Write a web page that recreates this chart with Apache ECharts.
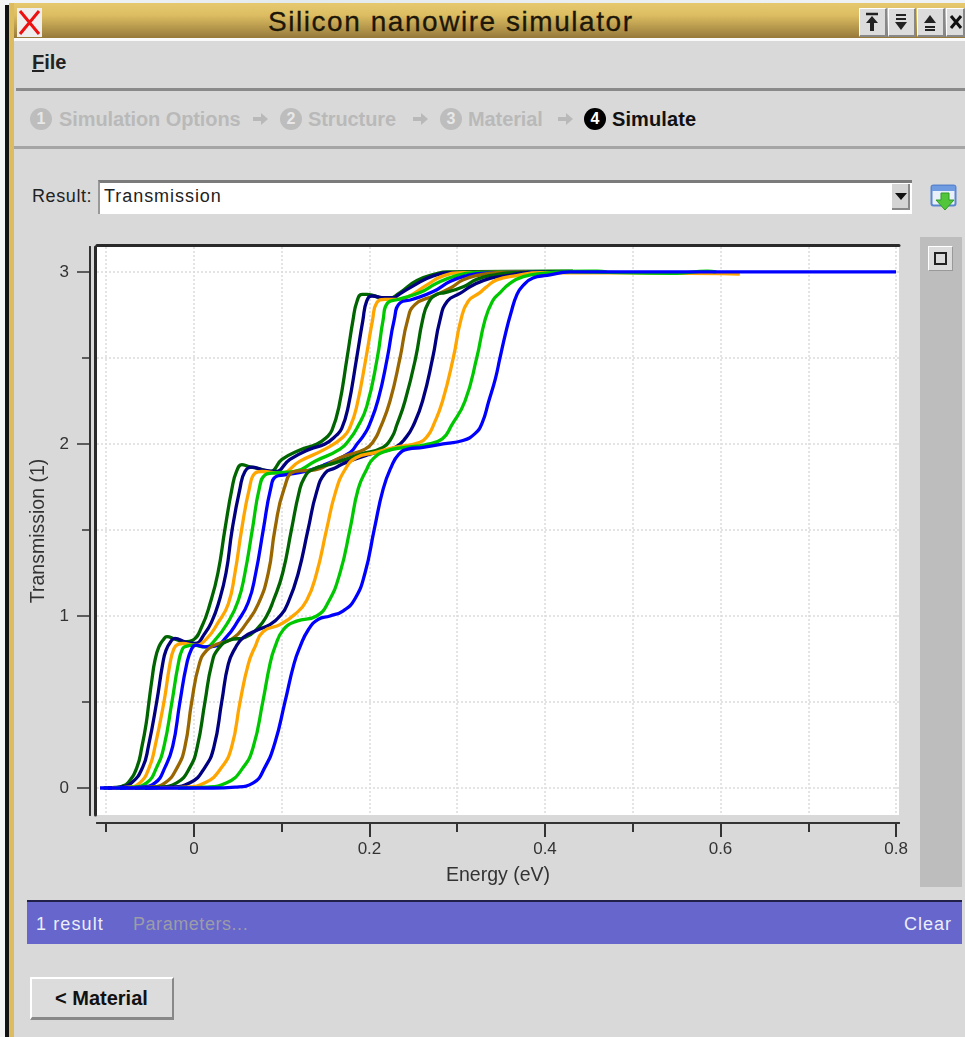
<!DOCTYPE html>
<html><head><meta charset="utf-8"><title>Silicon nanowire simulator</title>
<script src="https://cdn.jsdelivr.net/npm/echarts@6/dist/echarts.min.js"></script>
<style>
html,body{margin:0;padding:0;width:965px;height:1037px;overflow:hidden;background:#d9d9d9;font-family:"Liberation Sans",Arial,sans-serif;color:#222}
.a{position:absolute;white-space:nowrap;line-height:1}
#chart{position:absolute;left:0;top:0;width:965px;height:1037px;z-index:2}
.step{font-weight:bold;font-size:20px;color:#b9b9b9;letter-spacing:-.1px}
.num{width:22px;height:22px;border-radius:50%;background:#bdbdbd;color:#e8e8e8;text-align:center;font-size:16px;line-height:22px;font-weight:bold}
.btn{background:#dcdcdc;border-top:1px solid #fff;border-left:1px solid #fff;border-right:2px solid #888;border-bottom:2px solid #888;box-sizing:border-box}
</style></head><body>
<div class="a" style="left:0;top:0;width:965px;height:9px;background:linear-gradient(90deg,#f3f6f8,#e3eaee 30%,#f0f3f5)"></div>
<div class="a" style="left:0;top:0;width:5px;height:1037px;background:#f4f4f4"></div>
<div class="a" style="left:5px;top:5px;width:4px;height:1032px;background:#111"></div>
<div class="a" style="left:9px;top:3px;width:5px;height:1034px;background:#dcbc5e"></div>
<div class="a" style="left:14px;top:3px;width:951px;height:35px;background:linear-gradient(180deg,#e6c96f,#dcbd62 35%,#96793a)"></div>
<div class="a" style="left:14px;top:38px;width:951px;height:3px;background:#fafafa"></div>
<div class="a" style="left:17px;top:8px;width:25px;height:29px;background:#eee"></div>
<svg class="a" style="left:17px;top:8px" width="25" height="29"><path d="M3 3L22 26M22 3L3 26" stroke="#ee1111" stroke-width="3"/></svg>
<div class="a" id="title" style="left:268px;top:8px;font-size:28px;letter-spacing:1.55px;color:#1c1608;-webkit-text-stroke:.3px #1c1608">Silicon nanowire simulator</div>
<div class="a btn" style="left:859px;top:8px;width:28px;height:29px"><svg width="24" height="26"><path d="M6 5H18" stroke="#222" stroke-width="2.5"/><path d="M6 14L12 7L18 14H14V22H10V14Z" fill="#222"/></svg></div>
<div class="a btn" style="left:888px;top:8px;width:28px;height:29px"><svg width="24" height="26"><path d="M7 6H17M7 10H17" stroke="#222" stroke-width="2"/><path d="M6 13H18L12 21Z" fill="#222"/></svg></div>
<div class="a btn" style="left:917px;top:8px;width:28px;height:29px"><svg width="24" height="26"><path d="M6 14H18L12 6Z" fill="#222"/><path d="M7 18H17M7 21H17" stroke="#222" stroke-width="2"/></svg></div>
<div class="a btn" style="left:946px;top:8px;width:19px;height:29px"><svg width="18" height="26"><path d="M4 7L14 19M14 7L4 19" stroke="#111" stroke-width="3"/></svg></div>

<div class="a" style="left:32px;top:52px;font-size:20px;font-weight:bold;color:#222"><u>F</u>ile</div>
<div class="a" style="left:16px;top:88px;width:949px;height:3px;background:#8a8a8a"></div>
<div class="a" style="left:14px;top:146px;width:951px;height:3px;background:#a5a5a5"></div>

<div class="a num" style="left:30px;top:108px">1</div>
<div class="a step" style="left:59px;top:109px">Simulation Options</div>
<svg class="a" style="left:252px;top:111px" width="18" height="16"><path d="M1 6H9V2L16 8L9 14V10H1Z" fill="#b9b9b9"/></svg>
<div class="a num" style="left:280px;top:108px">2</div>
<div class="a step" style="left:308px;top:109px">Structure</div>
<svg class="a" style="left:412px;top:111px" width="18" height="16"><path d="M1 6H9V2L16 8L9 14V10H1Z" fill="#b9b9b9"/></svg>
<div class="a num" style="left:440px;top:108px">3</div>
<div class="a step" style="left:468px;top:109px">Material</div>
<svg class="a" style="left:557px;top:111px" width="18" height="16"><path d="M1 6H9V2L16 8L9 14V10H1Z" fill="#b9b9b9"/></svg>
<div class="a num" style="left:584px;top:108px;background:#000;color:#fff">4</div>
<div class="a step" style="left:612px;top:109px;color:#111;letter-spacing:.1px">Simulate</div>

<div class="a" style="left:32px;top:187px;font-size:18px;letter-spacing:.6px;color:#222">Result:</div>
<div class="a" style="left:98px;top:180px;width:814px;height:34px;background:#fff;border-top:3px solid #7b7b7b;border-left:2px solid #999;box-sizing:border-box"></div>
<div class="a" style="left:104px;top:187px;font-size:18px;letter-spacing:.95px;color:#222">Transmission</div>
<div class="a" style="left:892px;top:184px;width:18px;height:26px;background:#d4d4d4;border-right:2px solid #888;border-bottom:2px solid #888;box-sizing:border-box"></div>
<svg class="a" style="left:894px;top:192px" width="14" height="10"><path d="M1 1H13L7 8Z" fill="#111"/></svg>
<svg class="a" style="left:930px;top:184px" width="30" height="30"><rect x="1.5" y="1.5" width="24" height="20" rx="2" fill="#e9f0fa" stroke="#5a86cf" stroke-width="2"/><rect x="2" y="2" width="23" height="5" fill="#6f9be0"/><path d="M11 9H19V16H24L15 26L6 16H11Z" fill="#52c63a" stroke="#2f9a25"/></svg>

<div class="a" style="left:920px;top:237px;width:42px;height:650px;background:#bdbdbd"></div>
<div class="a" style="left:928px;top:246px;width:25px;height:25px;background:#dcdcdc;border-top:1px solid #fff;border-left:1px solid #fff;border-right:1px solid #999;border-bottom:1px solid #999;box-sizing:border-box"></div>
<div class="a" style="left:934px;top:252px;width:13px;height:13px;border:2px solid #222;box-sizing:border-box"></div>

<div class="a" style="left:27px;top:900px;width:935px;height:44px;background:#6666cc;border-top:2px solid #20204a;box-sizing:border-box"></div>
<div class="a" style="left:36px;top:915px;font-size:18px;letter-spacing:1.1px;color:#eceef8">1 result</div>
<div class="a" style="left:133px;top:915px;font-size:18px;letter-spacing:.55px;color:#9c9ca8">Parameters...</div>
<div class="a" style="left:904px;top:915px;font-size:18px;letter-spacing:1px;color:#eceef8">Clear</div>

<div class="a" style="left:30px;top:977px;width:144px;height:43px;background:#dcdcdc;border-top:2px solid #fff;border-left:2px solid #fff;border-right:2px solid #888;border-bottom:3px solid #888;box-sizing:border-box"></div>
<div class="a" style="left:55px;top:988px;font-size:20px;font-weight:bold;color:#111">&lt; Material</div>

<div id="chart"></div>
<script>
// Readings from the picture: [energy (eV), transmission]
const darkGreenA=[[-.103,0],[-.09,.003],[-.082,.01],[-.0752,.03],[-.065,.12],[-.0593,.24],[-.0546,.37],[-.0513,.5],[-.0479,.63],[-.0445,.74],[-.04,.82],[-.0345,.865],[-.0308,.88],[-.0217,.865],[-.0103,.85],[-.0011,.86],[.0091,.94],[.0182,1.07],[.0273,1.25],[.0353,1.505],[.0433,1.74],[.0485,1.84],[.0547,1.88],[.0615,1.87],[.0752,1.855],[.0866,1.84],[.1003,1.91],[.1208,1.965],[.1402,2],[.1515,2.04],[.1573,2.08],[.1652,2.217],[.1744,2.5],[.1812,2.72],[.1858,2.83],[.1915,2.87],[.1972,2.87],[.212,2.85],[.2199,2.84],[.2348,2.88],[.2541,2.95],[.2769,2.99],[.2883,3],[.4228,3.004],[.4319,3.004]];
const navyA=[[-.098,0],[-.0843,.005],[-.071,.03],[-.0585,.12],[-.052,.24],[-.0425,.5],[-.0357,.72],[-.0319,.8],[-.026,.855],[-.0217,.87],[-.0103,.85],[.0011,.84],[.0125,.9],[.0205,.97],[.0277,1.07],[.0365,1.25],[.0436,1.505],[.0524,1.74],[.0581,1.84],[.0661,1.865],[.0775,1.85],[.0923,1.84],[.1094,1.91],[.1322,1.97],[.1493,2],[.1622,2.05],[.1684,2.09],[.1758,2.217],[.1854,2.5],[.1925,2.72],[.1968,2.83],[.2028,2.86],[.2177,2.85],[.2291,2.85],[.231,2.86],[.2499,2.919],[.2727,2.977],[.2955,2.996],[.417,3],[.44,3]];
const orangeA=[[-.0934,0],[-.0752,.005],[-.0615,.03],[-.0509,.12],[-.0444,.24],[-.0342,.5],[-.0274,.72],[-.0228,.81],[-.0182,.835],[-.0125,.84],[.0011,.83],[.0148,.87],[.0273,.96],[.0391,1.07],[.0467,1.25],[.0544,1.505],[.0631,1.74],[.0695,1.83],[.0775,1.84],[.098,1.83],[.1208,1.9],[.1493,1.97],[.1701,2.04],[.178,2.1],[.1854,2.217],[.196,2.5],[.2035,2.72],[.2082,2.82],[.2177,2.84],[.2291,2.84],[.2425,2.853],[.2655,2.925],[.2841,2.977],[.3069,2.996],[.43,3],[.44,3]];
const limeA=[[-.0889,0],[-.0706,.005],[-.0539,.03],[-.0425,.12],[-.0342,.24],[-.0251,.5],[-.0179,.72],[-.0129,.81],[-.008,.825],[-.0011,.83],[.0125,.82],[.0239,.86],[.0395,.97],[.0505,1.09],[.0581,1.25],[.0666,1.505],[.0744,1.74],[.0809,1.82],[.0889,1.83],[.1151,1.84],[.1379,1.9],[.1664,1.97],[.1778,2.03],[.1855,2.09],[.1968,2.217],[.2089,2.5],[.2155,2.72],[.2207,2.82],[.2325,2.84],[.2575,2.88],[.2766,2.934],[.2955,2.973],[.3183,2.996],[.45,3.005],[.46,3.005],[.47,3]];
const blueA=[[-.0843,0],[-.0615,.005],[-.0444,.03],[-.033,.12],[-.0243,.24],[-.016,.5],[-.0083,.72],[-.0026,.81],[.0023,.83],[.0125,.82],[.0239,.825],[.0373,.88],[.0487,.96],[.0619,1.08],[.0704,1.25],[.0791,1.505],[.0874,1.74],[.0934,1.81],[.1037,1.82],[.1265,1.84],[.1493,1.88],[.1778,1.95],[.1858,2],[.1934,2.05],[.1998,2.11],[.21,2.26],[.2203,2.5],[.2281,2.72],[.2348,2.82],[.2484,2.84],[.2727,2.886],[.2917,2.944],[.3108,2.978],[.3297,2.993],[.4,3]];
const brownA=[[-.0752,0],[-.0501,.005],[-.033,.03],[-.019,.12],[-.0103,.24],[-.0026,.5],[.006,.72],[.0145,.8],[.0259,.835],[.0444,.87],[.06,.96],[.0733,1.07],[.0847,1.25],[.0923,1.505],[.1027,1.74],[.1151,1.84],[.1379,1.85],[.1664,1.92],[.1949,1.97],[.2051,2.02],[.212,2.09],[.2234,2.25],[.2348,2.5],[.2434,2.72],[.2518,2.81],[.2727,2.86],[.2917,2.905],[.3069,2.954],[.3259,2.983],[.345,2.996],[.38,3]];
const darkGreenB=[[-.0672,0],[-.041,.005],[-.0197,.03],[-.0046,.12],[.0038,.24],[.0125,.5],[.0202,.72],[.0277,.81],[.041,.86],[.0581,.875],[.0729,.93],[.0828,1],[.0905,1.09],[.1011,1.25],[.1112,1.505],[.1198,1.72],[.1254,1.8],[.1345,1.85],[.1607,1.89],[.1892,1.94],[.2154,1.98],[.2256,2.04],[.2311,2.11],[.2405,2.25],[.2526,2.5],[.2605,2.72],[.267,2.82],[.2769,2.87],[.286,2.88],[.3069,2.914],[.3222,2.957],[.3411,2.982],[.3639,2.996],[.42,3]];
const navyB=[[-.0558,0],[-.0274,.005],[-.0046,.03],[.0125,.12],[.0228,.24],[.0316,.5],[.0391,.72],[.0467,.81],[.0562,.875],[.0729,.92],[.0866,.95],[.098,1],[.1075,1.08],[.1189,1.25],[.1301,1.505],[.1397,1.72],[.1493,1.83],[.1607,1.86],[.1721,1.89],[.2006,1.94],[.2291,1.98],[.2419,2.04],[.2502,2.11],[.2605,2.25],[.272,2.5],[.2803,2.72],[.2887,2.83],[.3031,2.875],[.3183,2.924],[.3373,2.963],[.3563,2.978],[.3791,2.996],[.43,3]];
const orangeB=[[-.0387,0],[-.0103,.005],[.0125,.03],[.0316,.12],[.043,.24],[.0525,.5],[.0619,.72],[.0695,.82],[.079,.91],[.098,.95],[.1151,1.01],[.1284,1.09],[.1398,1.25],[.1512,1.505],[.1613,1.72],[.172,1.85],[.1846,1.92],[.2063,1.95],[.2291,1.98],[.2575,2.01],[.2667,2.05],[.2729,2.11],[.2833,2.25],[.2955,2.5],[.3041,2.72],[.3125,2.83],[.3259,2.88],[.3327,2.91],[.345,2.954],[.3677,2.979],[.3943,2.996],[.6,2.99],[.622,2.988]];
const limeB=[[-.0182,0],[.0125,.005],[.0373,.03],[.0562,.12],[.0676,.24],[.0784,.5],[.0866,.72],[.0923,.82],[.1018,.92],[.117,.97],[.1398,1],[.153,1.08],[.1664,1.25],[.1778,1.505],[.1872,1.74],[.1966,1.85],[.2043,1.915],[.2196,1.96],[.2405,1.98],[.2632,1.995],[.283,2.03],[.2937,2.11],[.3089,2.25],[.3222,2.5],[.3316,2.72],[.3401,2.83],[.348,2.875],[.3601,2.934],[.3753,2.973],[.398,2.992],[.4285,3],[.545,2.992],[.55,2.992],[.585,3.005],[.595,3]];
const blueB=[[-.1071,0],[.0217,0],[.0467,.005],[.0676,.03],[.0808,.12],[.0921,.26],[.1037,.5],[.1139,.72],[.1208,.82],[.1303,.92],[.1416,.98],[.155,1],[.1702,1.03],[.1835,1.1],[.1949,1.25],[.2055,1.505],[.2157,1.74],[.2251,1.87],[.2333,1.94],[.2437,1.97],[.261,1.98],[.2838,2],[.3065,2.02],[.3202,2.06],[.3282,2.12],[.336,2.25],[.3435,2.38],[.3487,2.5],[.3554,2.65],[.3611,2.76],[.3681,2.87],[.3749,2.92],[.3863,2.965],[.4023,2.98],[.4285,3],[.8,3]];

const curves=[darkGreenA,navyA,orangeA,limeA,blueA,brownA,darkGreenB,navyB,orangeB,limeB,blueB];
const curveColors=['#006400','#000080','#ffa500','#00c800','#0000ff','#996600','#006400','#000080','#ffa500','#00c800','#0000ff'];
const xMinorTicks=[-.1,0,.1,.2,.3,.4,.5,.6,.7,.8];
const xMajorTicks=[0,.2,.4,.6,.8];
const yMinorTicks=[0,.5,1,1.5,2,2.5,3];
const yMajorTicks=[0,1,2,3];
const xRange=[-.1105,.8034];
const yRange=[-.157,3.145];
const ink='#333',gridGrey='#dcdcdc',font='"Liberation Sans",Arial,sans-serif';
const chart=echarts.init(document.getElementById('chart'),null,{renderer:'canvas'});
const hidden={show:false};
const xBase={type:'value',min:xRange[0],max:xRange[1],position:'bottom',splitLine:hidden,axisLabel:hidden,axisTick:hidden,axisLine:{onZero:false,lineStyle:{color:ink,width:2}}};
const yBase={type:'value',min:yRange[0],max:yRange[1],position:'left',splitLine:hidden,axisLabel:hidden,axisTick:hidden,axisLine:{onZero:false,lineStyle:{color:ink,width:2}}};
chart.setOption({
  animation:false,backgroundColor:'transparent',
  grid:{left:97,right:66,top:247,bottom:222,show:true,backgroundColor:'#fff',borderWidth:0},
  xAxis:[
    {...xBase,offset:8,axisTick:{show:true,customValues:xMinorTicks,length:9,lineStyle:{color:ink,width:2}},
      splitLine:{show:true,lineStyle:{color:gridGrey,type:[2,2],width:1.5}}},
    {...xBase,offset:8,axisTick:{show:true,customValues:xMajorTicks,length:14,lineStyle:{color:ink,width:2}},
      axisLabel:{show:true,customValues:xMajorTicks,color:ink,fontSize:17,fontFamily:font,margin:18,formatter:v=>String(+v.toFixed(1))},
      name:'Energy (eV)',nameLocation:'middle',nameGap:43,nameTextStyle:{color:ink,fontSize:19.5,fontFamily:font}},
    {...xBase,position:'top',offset:1.5,axisLine:{onZero:false,lineStyle:{color:'#2a2a2a',width:3}}}
  ],
  yAxis:[
    {...yBase,offset:7,axisTick:{show:true,customValues:yMinorTicks,length:8,lineStyle:{color:ink,width:1.5}},
      splitLine:{show:true,lineStyle:{color:gridGrey,type:[2,2],width:1.5}}},
    {...yBase,offset:7,axisTick:{show:true,customValues:yMajorTicks,length:13,lineStyle:{color:ink,width:1.5}},
      axisLabel:{show:true,customValues:yMajorTicks,color:ink,fontSize:17,fontFamily:font,margin:21,formatter:v=>String(v)},
      name:'Transmission (1)',nameLocation:'middle',nameGap:41,nameTextStyle:{color:ink,fontSize:19.5,fontFamily:font}},
    {...yBase,offset:1.5,axisLine:{onZero:false,lineStyle:{color:'#2a2a2a',width:3}}}
  ],
  series:curves.map((c,i)=>({type:'line',data:c,xAxisIndex:0,yAxisIndex:0,showSymbol:false,smooth:.5,
    lineStyle:{color:curveColors[i],width:3.3},z:3+i,clip:true}))
});
</script>
</body></html>
